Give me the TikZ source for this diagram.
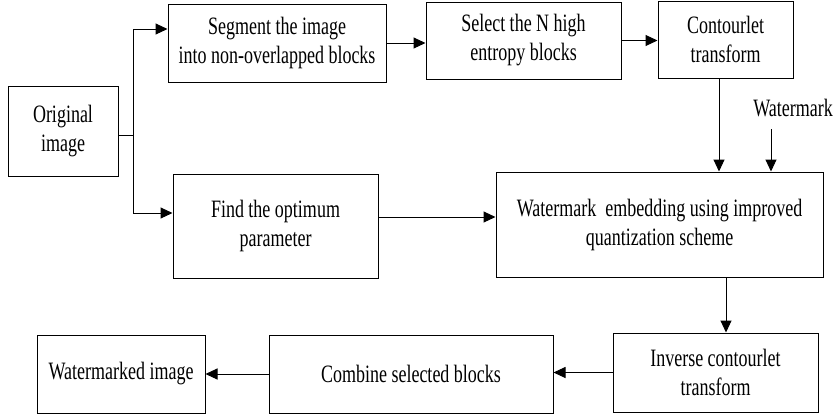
\documentclass[tikz,border=0pt]{standalone}
\usepackage{fontspec}
\setmainfont[FakeStretch=0.72]{Liberation Serif}
\usetikzlibrary{arrows.meta,calc}
\begin{document}
\begin{tikzpicture}[x=1pt,y=-1pt,
  every node/.style={font=\fontsize{25}{29}\selectfont, align=center, inner sep=0pt},
  blk/.style={draw, line width=1pt},
  conn/.style={line width=1pt, -{Triangle[length=12pt,width=11pt]}},
  plain/.style={line width=1pt}]
\useasboundingbox (0,0) rectangle (834,416);

% processing blocks
\node[blk, minimum width=110pt, minimum height=90pt] (orig) at (63,131) {Original\\image};
\node[blk, minimum width=218pt, minimum height=78pt] (seg) at (277,43) {Segment the image\\into non-overlapped blocks};
\node[blk, minimum width=195pt, minimum height=77pt] (sel) at (523.5,40.5) {Select the N high\\entropy blocks};
\node[blk, minimum width=135pt, minimum height=77pt] (con) at (725.5,39.5) {Contourlet\\transform};
\node[blk, minimum width=205pt, minimum height=104pt] (find) at (275.5,226) {Find the optimum\\parameter};
\node[blk, minimum width=327pt, minimum height=105pt] (emb) at (659.5,224.5) {Watermark\ \ embedding using improved\\quantization scheme};
\node[blk, minimum width=205pt, minimum height=79pt] (inv) at (715.5,372.5) {Inverse contourlet\\transform};
\node[blk, minimum width=284pt, minimum height=78pt] (comb) at (411,374) {Combine selected blocks};
\node[blk, minimum width=168pt, minimum height=78pt] (wmd) at (121,374) {Watermarked image};

% watermark input
\node (wm) at (793,108) {Watermark};
\coordinate (wmtail) at (771,129);

% branch point after the original image
\coordinate (j) at (133,135);
\draw[plain] ([yshift=-4pt]orig.east) -- (j);
\draw[conn] (j) |- ([yshift=14pt]seg.west);
\draw[conn] (j) |- ([yshift=13pt]find.west);

% upper chain
\draw[conn] (seg.east) -- (seg.east -| sel.west);
\draw[conn] (sel.east) -- (sel.east -| con.west);
\draw[conn] ([xshift=-6.5pt]con.south) -- ([xshift=-6.5pt]con.south |- emb.north);
\draw[conn] (wmtail) -- (wmtail |- emb.north);
\draw[conn] ([yshift=9pt]find.east) -- ([yshift=9pt]find.east -| emb.west);

% lower chain
\draw[conn] ([xshift=66.5pt]emb.south) -- ([xshift=66.5pt]emb.south |- inv.north);
\draw[conn] (inv.west) -- (inv.west -| comb.east);
\draw[conn] (comb.west) -- (comb.west -| wmd.east);
\end{tikzpicture}
\end{document}
